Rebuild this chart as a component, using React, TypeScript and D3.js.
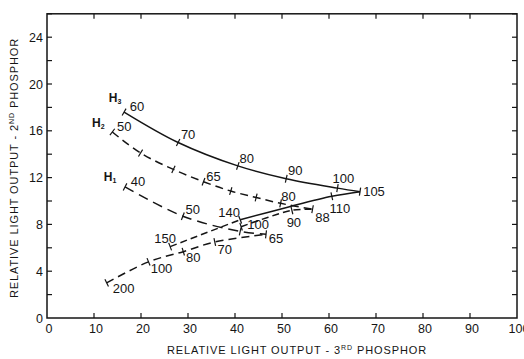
import { useEffect } from "react"
import * as d3 from "d3"

// axis ticks
const xTickValues = [0, 10, 20, 30, 40, 50, 60, 70, 80, 90, 100]
const yTickValues = [0, 4, 8, 12, 16, 20, 24]
const yMinorValues = [2, 6, 10, 14, 18, 22, 26]

// H3 curve (solid)
const h3X = [16.4, 27.9, 40.6, 50.9, 61.8, 66.6]
const h3Y = [17.6, 15.0, 13.0, 11.9, 11.1, 10.8]
const h3Labels = ["60", "70", "80", "90", "100", "105"]

// H2 curve (dashed)
const h2X = [13.9, 19.9, 26.9, 33.3, 39.1, 44.5, 49.7, 56.5]
const h2Y = [15.9, 14.1, 12.7, 11.65, 10.85, 10.3, 9.8, 9.3]
const h2Labels = ["50", "", "", "65", "", "", "80", "88"]

// H1 curve (dashed)
const h1X = [16.6, 28.9, 41.1, 46.6]
const h1Y = [11.2, 8.7, 7.4, 7.15]
const h1Labels = ["40", "50", "", "65"]

// connecting curve ending at H1 end
const c200X = [12.7, 21.6, 29.0, 35.7, 46.6]
const c200Y = [3.0, 4.8, 5.67, 6.5, 7.15]
const c200Labels = ["200", "100", "80", "70", ""]

// connecting curve 150 -> 140 (dashed) then solid to H3 end
const c150X = [26.2, 41.1]
const c150Y = [6.1, 8.4]
const c150Labels = ["150", "140"]
const c140X = [41.1, 51.0, 60.6, 66.6]
const c140Y = [8.4, 9.45, 10.4, 10.8]
const c140Labels = ["", "", "110", ""]

// connecting curve ending at H2 end
const c100X = [41.3, 52.1, 56.5]
const c100Y = [7.8, 9.2, 9.3]
const c100Labels = ["100", "90", ""]

// label placement (px offsets from the tick, to label centre)
const h3Off = [[13, -6], [10, -8], [9, -7], [9, -8], [6, -10], [14, 0]]
const h2Off = [[12, -5], [0, 0], [0, 0], [10, -5], [0, 0], [0, 0], [8, -7], [10, 8]]
const h1Off = [[13, -5], [10, -7], [0, 0], [10, 4]]
const c200Off = [[17, 6], [13, 7], [10, 6], [10, 8], [0, 0]]
const c150Off = [[-5, -8], [-11, -7]]
const c140Off = [[0, 0], [0, 0], [8, 12], [0, 0]]
const c100Off = [[17, -2], [2, 12], [0, 0]]

const W = 524
const H = 359
const ink = "#151515"
const font = "'Liberation Sans', Arial, sans-serif"

const x = d3.scaleLinear().domain([0, 100]).range([47, 517])
const y = d3.scaleLinear().domain([0, 26]).range([318, 13.8])

type Series = {
  xs: number[]
  ys: number[]
  labels: string[]
  offsets: number[][]
  dash: string
  ticks: boolean[]
}

const series: Series[] = [
  { xs: h3X, ys: h3Y, labels: h3Labels, offsets: h3Off, dash: "none", ticks: h3X.map(() => true) },
  { xs: h2X, ys: h2Y, labels: h2Labels, offsets: h2Off, dash: "8,5", ticks: h2X.map(() => true) },
  { xs: h1X, ys: h1Y, labels: h1Labels, offsets: h1Off, dash: "10,6", ticks: h1X.map(() => true) },
  { xs: c200X, ys: c200Y, labels: c200Labels, offsets: c200Off, dash: "8,5", ticks: [true, true, true, true, false] },
  { xs: c150X, ys: c150Y, labels: c150Labels, offsets: c150Off, dash: "7,4", ticks: [true, true] },
  { xs: c140X, ys: c140Y, labels: c140Labels, offsets: c140Off, dash: "none", ticks: [false, false, true, false] },
  { xs: c100X, ys: c100Y, labels: c100Labels, offsets: c100Off, dash: "7,4", ticks: [true, true, false] },
]

const line = d3
  .line<[number, number]>()
  .x((d) => x(d[0]))
  .y((d) => y(d[1]))
  .curve(d3.curveCatmullRom.alpha(0.5))

function tickMark(xs: number[], ys: number[], i: number) {
  const a = Math.max(0, i - 1)
  const b = Math.min(xs.length - 1, i + 1)
  const dx = x(xs[b]) - x(xs[a])
  const dy = y(ys[b]) - y(ys[a])
  const len = Math.hypot(dx, dy) || 1
  const nx = -dy / len
  const ny = dx / len
  const px = x(xs[i])
  const py = y(ys[i])
  const r = 4
  return { x1: px - nx * r, y1: py - ny * r, x2: px + nx * r, y2: py + ny * r }
}

export default function App() {
  useEffect(() => {
    document.body.style.margin = "0"
  }, [])

  return (
    <svg width={W} height={H} style={{ display: "block", background: "#fff" }} fontFamily={font}>
      {/* frame */}
      <rect x={x(0)} y={y(26)} width={x(100) - x(0)} height={y(0) - y(26)} fill="none" stroke={ink} strokeWidth={1.5} />

      {/* bottom & top ticks */}
      {xTickValues.slice(1, -1).map((v) => (
        <g key={"xt" + v}>
          <line x1={x(v)} x2={x(v)} y1={y(0)} y2={y(0) - 5} stroke={ink} strokeWidth={1.2} />
          <line x1={x(v)} x2={x(v)} y1={y(26)} y2={y(26) + 5} stroke={ink} strokeWidth={1.2} />
        </g>
      ))}
      {xTickValues.map((v) => (
        <text key={"xl" + v} x={x(v) + 2} y={y(0) + 15} textAnchor="middle" fontSize={12.5} fill={ink}>
          {v}
        </text>
      ))}

      {/* left & right ticks */}
      {[...yTickValues.slice(1), ...yMinorValues].map((v) => (
        <g key={"yt" + v}>
          <line x1={x(0)} x2={x(0) + 5} y1={y(v)} y2={y(v)} stroke={ink} strokeWidth={1.2} />
          <line x1={x(100)} x2={x(100) - 5} y1={y(v)} y2={y(v)} stroke={ink} strokeWidth={1.2} />
        </g>
      ))}
      {yTickValues.map((v) => (
        <text key={"yl" + v} x={x(0) - 4} y={y(v) + 4.5} textAnchor="end" fontSize={12.5} fill={ink}>
          {v}
        </text>
      ))}

      {/* axis titles */}
      <text x={297} y={354} textAnchor="middle" fontSize={11} letterSpacing={0.9} fill={ink}>
        RELATIVE LIGHT OUTPUT - 3
        <tspan fontSize={7} dy={-4}>RD</tspan>
        <tspan dy={4}> PHOSPHOR</tspan>
      </text>
      <text
        transform={`translate(18, 168) rotate(-90)`}
        textAnchor="middle"
        fontSize={11}
        letterSpacing={0.9}
        fill={ink}
      >
        RELATIVE LIGHT OUTPUT - 2
        <tspan fontSize={7} dy={-4}>ND</tspan>
        <tspan dy={4}> PHOSPHOR</tspan>
      </text>

      {/* curves */}
      {series.map((s, si) => {
        const pts = s.xs.map((v, i) => [v, s.ys[i]] as [number, number])
        return (
          <g key={"s" + si}>
            <path d={line(pts) || ""} fill="none" stroke={ink} strokeWidth={1.5} strokeDasharray={s.dash} />
            {pts.map((p, i) =>
              s.ticks[i] ? (
                <line key={"tk" + i} {...tickMark(s.xs, s.ys, i)} stroke={ink} strokeWidth={1.2} />
              ) : null
            )}
            {pts.map((p, i) =>
              s.labels[i] ? (
                <text
                  key={"lb" + i}
                  x={x(p[0]) + s.offsets[i][0]}
                  y={y(p[1]) + s.offsets[i][1] + 4.5}
                  textAnchor="middle"
                  fontSize={13}
                  fill={ink}
                >
                  {s.labels[i]}
                </text>
              ) : null
            )}
          </g>
        )
      })}

      {/* family labels */}
      {[
        { n: "3", xv: h3X[0], yv: h3Y[0], dx: -9, dy: -10 },
        { n: "2", xv: h2X[0], yv: h2Y[0], dx: -14, dy: -5 },
        { n: "1", xv: h1X[0], yv: h1Y[0], dx: -15, dy: -6 },
      ].map((h) => (
        <text key={"h" + h.n} x={x(h.xv) + h.dx} y={y(h.yv) + h.dy} textAnchor="middle" fontSize={12} fontWeight="bold" fill={ink}>
          H<tspan fontSize={7} dy={2}>{h.n}</tspan>
        </text>
      ))}
    </svg>
  )
}
